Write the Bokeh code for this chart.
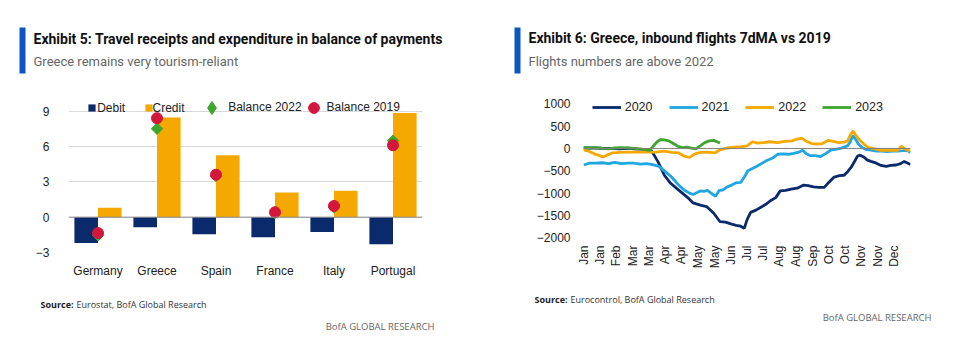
import math
from bokeh.plotting import figure
from bokeh.layouts import row, column
from bokeh.models import (ColumnDataSource, FactorRange, Range1d, FixedTicker, Span,
                          Label, BoxAnnotation, Legend, LegendItem)
from bokeh.transform import dodge
from bokeh.embed import file_html
from bokeh.resources import INLINE

# ---------------- data: Exhibit 5 ----------------
countries = ["Germany", "Greece", "Spain", "France", "Italy", "Portugal"]
debit = [-2.2, -0.85, -1.45, -1.7, -1.25, -2.3]
credit = [0.8, 8.45, 5.25, 2.1, 2.25, 8.85]
balance_2022 = [-1.55, 7.5, 3.5, 0.35, 0.85, 6.5]
balance_2019 = [-1.35, 8.4, 3.6, 0.42, 0.95, 6.1]
left_yticks = [-3, 0, 3, 6, 9]

# ---------------- data: Exhibit 6 (day of year, flights vs 2019) ----------------
days_2020 = [0, 10, 20, 30, 40, 50, 60, 70, 76, 83, 90, 97, 104, 110, 116, 122, 130, 137, 145,
             152, 158, 164, 170, 175, 179, 182, 186, 192, 197, 203, 208, 214, 219, 225, 231, 238,
             245, 250, 256, 262, 268, 273, 279, 285, 290, 294, 298, 302, 305, 308, 312, 316, 320,
             326, 331, 337, 342, 348, 353, 357, 360, 364]
vals_2020 = [10, 15, 5, 0, -10, 5, -15, -20, -60, -300, -600, -780, -900, -1000, -1100, -1220,
             -1270, -1300, -1450, -1640, -1650, -1690, -1720, -1740, -1790, -1600, -1430, -1380,
             -1320, -1250, -1170, -1100, -950, -940, -910, -890, -820, -830, -860, -870, -870,
             -760, -640, -610, -600, -520, -420, -280, -170, -150, -190, -260, -290, -330, -380,
             -400, -380, -370, -340, -290, -320, -360]

days_2021 = [0, 7, 14, 21, 28, 35, 42, 49, 56, 63, 70, 77, 84, 91, 98, 105, 112, 118, 122, 126,
             130, 134, 138, 142, 147, 151, 155, 160, 165, 170, 175, 179, 183, 188, 193, 198, 204,
             210, 216, 222, 228, 234, 240, 244, 248, 252, 258, 264, 270, 275, 280, 286, 290, 294,
             297, 300, 303, 306, 310, 314, 320, 326, 332, 338, 344, 350, 356, 360, 364]
vals_2021 = [-370, -330, -330, -320, -340, -310, -340, -330, -330, -350, -340, -360, -400, -520,
             -640, -800, -930, -1000, -1030, -990, -950, -960, -940, -1000, -1070, -940, -930,
             -860, -820, -770, -760, -640, -500, -450, -400, -340, -270, -220, -130, -120, -130,
             -110, -80, -40, -120, -160, -160, -180, -110, -40, -20, 0, 30, 60, 150, 290, 200,
             100, 20, -20, -40, -60, -60, -70, -60, -60, -50, -40, -90]

days_2022 = [0, 6, 12, 18, 22, 26, 32, 40, 50, 60, 70, 80, 90, 98, 106, 112, 118, 124, 130, 138,
             146, 152, 160, 168, 176, 182, 188, 194, 200, 208, 216, 224, 232, 238, 243, 248, 254,
             260, 266, 272, 278, 284, 290, 294, 297, 300, 303, 307, 312, 317, 322, 330, 338, 346,
             350, 354, 357, 360, 364]
vals_2022 = [-30, -60, -120, -160, -190, -150, -100, -90, -80, -80, -80, -80, -60, -90, -100,
             -170, -200, -120, -90, -80, -100, -30, 10, 30, 40, 60, 150, 120, 130, 150, 130, 160,
             170, 210, 230, 160, 110, 100, 110, 180, 160, 130, 140, 170, 300, 390, 300, 200, 100,
             20, 0, -40, -40, -40, -40, 50, 0, -30, -60]

days_2023 = [0, 7, 14, 21, 28, 35, 42, 49, 56, 63, 70, 74, 78, 82, 86, 90, 95, 100, 105, 110,
             115, 120, 125, 130, 135, 140, 145, 150, 152]
vals_2023 = [20, 10, 20, 0, -10, 10, 20, 10, 0, -10, -30, -40, 60, 150, 200, 190, 170, 110, 50,
             20, 30, 10, -10, 60, 130, 170, 180, 140, 120]

month_labels = ["Jan", "Jan", "Feb", "Mar", "Mar", "Apr", "Apr", "May", "May", "Jun",
                "Jul", "Jul", "Aug", "Aug", "Sep", "Oct", "Oct", "Nov", "Nov", "Dec"]
right_yticks = [-2000, -1500, -1000, -500, 0, 500, 1000]

# ---------------- styles ----------------
NAVY = "#0b2a6b"
GOLD = "#f5a800"
GREEN = "#3ea52e"
RED = "#d2163c"
LBLUE = "#1ea7e1"
BARBLUE = "#0b55c4"
AXFONT = "Liberation Sans"
TFONT = "Roboto"
SFONT = "Open Sans"

W = 976
HEAD_H = 88
CHART_H = 202
FOOT_H = 60


def blank(h):
    f = figure(width=W, height=h, x_range=Range1d(0, 1), y_range=Range1d(0, 1),
               x_axis_location=None, y_axis_location=None, output_backend="svg",
               toolbar_location=None, min_border=0)
    f.outline_line_color = None
    f.xgrid.grid_line_color = None
    f.ygrid.grid_line_color = None
    return f


def slabel(f, h, x, cy, text, **kw):
    f.add_layout(Label(x=x, y=h - cy, x_units="screen", y_units="screen", text=text,
                       text_baseline="middle", **kw))


def sbox(f, h, x0, x1, y0, y1):
    f.add_layout(BoxAnnotation(left=x0, right=x1, top=h - y0, bottom=h - y1,
                               left_units="screen", right_units="screen",
                               top_units="screen", bottom_units="screen",
                               fill_color=BARBLUE, fill_alpha=1, line_alpha=0))


# ---------------- header ----------------
head = blank(HEAD_H)
for (bx, tx, ty, sy, title, sub) in [
        (19, 33, 38.5, 60.5, "Exhibit 5: Travel receipts and expenditure in balance of payments",
         "Greece remains very tourism-reliant"),
        (514, 528, 37.5, 60.5, "Exhibit 6: Greece, inbound flights 7dMA vs 2019",
         "Flights numbers are above 2022")]:
    sbox(head, HEAD_H, bx, bx + 6, 27, 73)
    slabel(head, HEAD_H, tx, ty, title, text_font=TFONT, text_font_style="bold",
           text_font_size="14px", text_color="#111111")
    slabel(head, HEAD_H, tx, sy, sub, text_font=TFONT, text_font_size="13px",
           text_color="#666666")

# ---------------- footer ----------------
foot = blank(FOOT_H)
for (sx, sy, rest, bx, by) in [(40, 303.5 - 290, "Eurostat, BofA Global Research", 434, 326 - 290),
                               (534, 299 - 290, "Eurocontrol, BofA Global Research", 931, 317 - 290)]:
    slabel(foot, FOOT_H, sx, sy, "Source:", text_font=SFONT, text_font_style="bold",
           text_font_size="9px", text_color="#222222")
    slabel(foot, FOOT_H, sx + 36, sy, rest, text_font=SFONT, text_font_size="9px",
           text_color="#333333")
    slabel(foot, FOOT_H, bx, by, "BofA GLOBAL RESEARCH", text_font=SFONT,
           text_font_size="9.5px", text_color="#666666", text_align="right")

# ---------------- left chart ----------------
TOP_B = 8          # frame top at canvas y 96
BOT_B = 38         # frame bottom at canvas y 252
src1 = ColumnDataSource(dict(country=countries, debit=debit, credit=credit,
                             b22=balance_2022, b19=balance_2019))
p1 = figure(width=488, height=CHART_H, x_range=FactorRange(*countries),
            y_range=Range1d(-3, 10.24), output_backend="svg", toolbar_location=None,
            min_border_left=68, min_border_right=66, min_border_top=TOP_B,
            min_border_bottom=BOT_B)
r_deb = p1.vbar(x=dodge("country", -0.2, range=p1.x_range), top="debit", width=0.4,
                source=src1, fill_color=NAVY, line_color=None)
r_cre = p1.vbar(x=dodge("country", 0.2, range=p1.x_range), top="credit", width=0.4,
                source=src1, fill_color=GOLD, line_color=None)
p1.add_layout(Span(location=0, dimension="width", line_color="#8c8c8c", line_width=1))
# diamond glyph (used for the legend key) under a rotated square of the same colour
r_22 = p1.scatter(x="country", y="b22", source=src1, marker="diamond", size=10,
                  fill_color=GREEN, line_color=GREEN)
p1.scatter(x="country", y="b22", source=src1, marker="square", size=8, angle=math.pi / 4,
           fill_color=GREEN, line_color=GREEN)
r_19 = p1.scatter(x="country", y="b19", source=src1, marker="circle", size=11,
                  fill_color=RED, line_color=RED)

p1.outline_line_color = None
p1.xgrid.grid_line_color = None
p1.ygrid.ticker = FixedTicker(ticks=left_yticks)
p1.ygrid.grid_line_color = "#d9d9d9"
p1.yaxis.ticker = FixedTicker(ticks=left_yticks)
for ax in (p1.xaxis[0], p1.yaxis[0]):
    ax.axis_line_color = None
    ax.major_tick_line_color = None
    ax.minor_tick_line_color = None
    ax.major_tick_out = 0
    ax.major_label_text_font = AXFONT
    ax.major_label_text_font_size = "12px"
    ax.major_label_text_color = "#222222"
p1.yaxis.major_label_standoff = 19
p1.xaxis.major_label_standoff = 11

FL1, FB1 = 68, 252
leg_specs = [
    ("Debit", r_deb, 9, 91.7, 1),
    ("Credit", r_cre, 9, 148.0, 0),
    ("Balance 2022", r_22, 33, 211.7, -10),
    ("Balance 2019", r_19, 27, 313.0, -7),
]
for lab, rend, g, cx, so in leg_specs:
    h = max(g, 15)
    lg = Legend(items=[LegendItem(label=lab, renderers=[rend])],
                location=(cx - g / 2 - FL1, FB1 - (107 + h / 2)),
                glyph_width=g, glyph_height=g, label_standoff=so, padding=0, margin=0,
                border_line_alpha=0, background_fill_alpha=0,
                label_text_font=AXFONT, label_text_font_size="12px",
                label_text_color="#222222")
    p1.add_layout(lg, "center")

# ---------------- right chart ----------------
p2 = figure(width=488, height=CHART_H, x_range=Range1d(0, 364), y_range=Range1d(-2329, 1163),
            output_backend="svg", toolbar_location=None,
            min_border_left=95, min_border_right=66, min_border_top=TOP_B,
            min_border_bottom=BOT_B)
p2.add_layout(Span(location=0, dimension="width", line_color="#808080", line_width=1))
l20 = p2.line(days_2020, vals_2020, line_color=NAVY, line_width=2.8)
l21 = p2.line(days_2021, vals_2021, line_color=LBLUE, line_width=2.8)
l22 = p2.line(days_2022, vals_2022, line_color=GOLD, line_width=2.8)
l23 = p2.line(days_2023, vals_2023, line_color=GREEN, line_width=2.8)

p2.outline_line_color = None
p2.xgrid.grid_line_color = None
p2.ygrid.grid_line_color = None
p2.yaxis.ticker = FixedTicker(ticks=right_yticks)
step = 364 / 20
xt = [int(round(i * step)) for i in range(len(month_labels))]
p2.xaxis.ticker = FixedTicker(ticks=xt)
p2.xaxis.major_label_overrides = {t: m for t, m in zip(xt, month_labels)}
p2.xaxis.major_label_orientation = math.pi / 2
for ax in (p2.xaxis[0], p2.yaxis[0]):
    ax.axis_line_color = None
    ax.major_tick_line_color = None
    ax.minor_tick_line_color = None
    ax.major_tick_out = 0
    ax.major_label_text_font = AXFONT
    ax.major_label_text_font_size = "12px"
    ax.major_label_text_color = "#222222"
p2.yaxis.major_label_standoff = 13
p2.xaxis.major_label_standoff = -7

FL2, FB2 = 583, 252
leg2 = Legend(items=[LegendItem(label="2020", renderers=[l20]),
                     LegendItem(label="2021", renderers=[l21]),
                     LegendItem(label="2022", renderers=[l22]),
                     LegendItem(label="2023", renderers=[l23])],
              orientation="horizontal", location=(591.7 - FL2, FB2 - (106 + 7.5)),
              glyph_width=29, glyph_height=14, label_standoff=4, spacing=16,
              padding=0, margin=0, border_line_alpha=0, background_fill_alpha=0,
              label_text_font=AXFONT, label_text_font_size="12.5px", label_text_color="#222222")
p2.add_layout(leg2, "center")

layout = column(head, row(p1, p2), foot)
open("out.html", "w").write(file_html(layout, INLINE))
